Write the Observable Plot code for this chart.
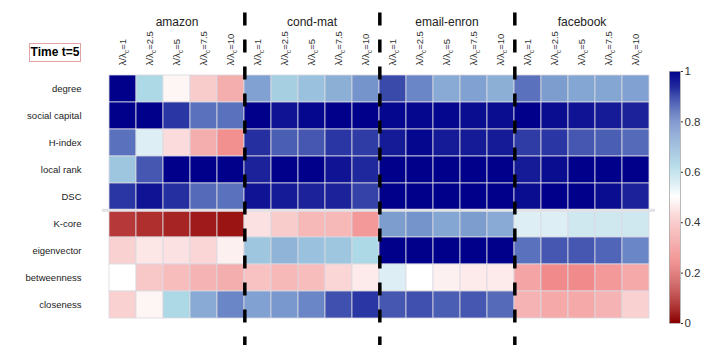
<!DOCTYPE html>
<html>
<head>
<meta charset="utf-8">
<script src="https://cdn.jsdelivr.net/npm/d3@7"></script>
<script src="https://cdn.jsdelivr.net/npm/@observablehq/plot@0.6"></script>
<style>
  html, body { margin: 0; padding: 0; background: white; }
  #wrap { position: relative; width: 714px; height: 361px; font-family: "Liberation Sans", Arial, sans-serif; }
  #wrap > div.abs { position: absolute; }
  #timebox { left: 29px; top: 43px; width: 50px; height: 17px; border: 1px solid #e3a3a3; font-weight: bold; font-size: 12px; line-height: 17px; text-align: center; color: #000; }
</style>
</head>
<body>
<div id="wrap"></div>
<script>
const rows = ["degree", "social capital", "H-index", "local rank", "DSC", "K-core", "eigenvector", "betweenness", "closeness"];
const datasets = ["amazon", "cond-mat", "email-enron", "facebook"];
const lambdas = ["1", "2.5", "5", "7.5", "10"];
const colorTicks = [0, 0.2, 0.4, 0.6, 0.8, 1];

// values per dataset: one row per measure, one column per λ/λc
const amazon = [
  [1.00, 0.62, 0.48, 0.40, 0.34],
  [1.00, 1.00, 0.92, 0.83, 0.83],
  [0.83, 0.55, 0.43, 0.34, 0.28],
  [0.66, 0.87, 1.00, 1.00, 1.00],
  [0.92, 0.97, 0.93, 0.84, 0.83],
  [0.11, 0.09, 0.07, 0.05, 0.04],
  [0.41, 0.45, 0.44, 0.42, 0.47],
  [0.50, 0.39, 0.37, 0.35, 0.34],
  [0.41, 0.48, 0.62, 0.72, 0.80]
];
const condMat = [
  [0.74, 0.64, 0.67, 0.71, 0.77],
  [1.00, 0.97, 0.99, 1.00, 1.00],
  [0.93, 0.86, 0.87, 0.92, 0.91],
  [0.95, 1.00, 1.00, 0.97, 0.94],
  [0.97, 0.96, 0.95, 0.95, 0.90],
  [0.44, 0.40, 0.36, 0.36, 0.30],
  [0.66, 0.70, 0.67, 0.66, 0.62],
  [0.38, 0.36, 0.37, 0.42, 0.46],
  [0.74, 0.76, 0.80, 0.88, 0.92]
];
const emailEnron = [
  [0.89, 0.80, 0.72, 0.74, 0.71],
  [0.99, 0.99, 0.99, 0.98, 0.98],
  [0.96, 0.99, 0.96, 0.96, 0.96],
  [1.00, 1.00, 1.00, 1.00, 1.00],
  [1.00, 1.00, 1.00, 1.00, 1.00],
  [0.75, 0.77, 0.73, 0.75, 0.72],
  [1.00, 1.00, 1.00, 1.00, 1.00],
  [0.55, 0.50, 0.47, 0.46, 0.46],
  [0.87, 0.88, 0.86, 0.87, 0.84]
];
const facebook = [
  [0.83, 0.75, 0.73, 0.73, 0.74],
  [1.00, 0.98, 0.97, 0.96, 0.95],
  [0.91, 0.92, 0.87, 0.86, 0.84],
  [0.96, 0.98, 1.00, 1.00, 1.00],
  [0.98, 1.00, 1.00, 0.98, 0.95],
  [0.55, 0.55, 0.57, 0.57, 0.57],
  [0.83, 0.87, 0.87, 0.85, 0.80],
  [0.32, 0.27, 0.27, 0.30, 0.33],
  [0.35, 0.33, 0.33, 0.35, 0.41]
];
const tables = [amazon, condMat, emailEnron, facebook];

const cols = datasets.flatMap(ds => lambdas.map(l => ds + "|" + l));
const data = [];
datasets.forEach((ds, di) => tables[di].forEach((r, ri) => r.forEach((v, li) => {
  data.push({col: ds + "|" + lambdas[li], row: rows[ri], value: v});
})));

const colorOpts = {
  type: "linear",
  domain: [0, 0.25, 0.5, 0.62, 0.8, 1],
  range: ["#8b0000", "#f08080", "#ffffff", "#add8e6", "#6a86c6", "#00008b"],
  interpolate: "rgb"
};

const W = 714, H = 361, mL = 102, mR = 59, mT = 72, mB = 40;
const bwX = (W - mL - mR) / cols.length;
const bwY = (H - mT - mB) / rows.length;

const main = Plot.plot({
  width: W, height: H,
  marginLeft: mL, marginRight: mR, marginTop: mT, marginBottom: mB,
  x: {domain: cols, padding: 0, axis: null, label: null},
  y: {domain: rows, padding: 0, axis: null, label: null},
  color: colorOpts,
  style: {fontFamily: "'Liberation Sans', Arial, sans-serif", background: "white", overflow: "visible"},
  marks: [
    Plot.cell(data, {x: "col", y: "row", fill: "value", stroke: "#d9d9e2", strokeWidth: 0.8}),
    Plot.ruleY(["K-core"], {dy: -bwY / 2, stroke: "#e2e2e6", strokeWidth: 3}),
    Plot.axisY({tickSize: 0, tickPadding: 21, fontSize: 9.5, color: "#222", label: null}),
    Plot.axisX({anchor: "top", tickRotate: -90, tickSize: 0, tickPadding: 7, fontSize: 9.5, color: "#333", label: null,
      tickFormat: d => "λ/λc=" + d.split("|")[1]}),
    Plot.text(datasets, {x: d => d + "|5", frameAnchor: "top", dy: -55, fontSize: 12, fill: "#222", text: d => d}),
    Plot.ruleX(["amazon|10", "cond-mat|10", "email-enron|10"], {dx: bwX / 2, insetTop: -59.5, insetBottom: -24,
      stroke: "black", strokeWidth: 3.5, strokeDasharray: "13,14"})
  ]
});

// subscript c in tick labels
main.querySelectorAll("text").forEach(t => {
  const s = t.textContent;
  if (s.startsWith("λ/λc=")) {
    const rest = s.slice(5);
    while (t.firstChild) t.removeChild(t.firstChild);
    const ns = "http://www.w3.org/2000/svg";
    const a = document.createElementNS(ns, "tspan"); a.textContent = "λ/λ";
    const b = document.createElementNS(ns, "tspan"); b.textContent = "c"; b.setAttribute("dy", "3"); b.setAttribute("font-size", "7");
    const c = document.createElementNS(ns, "tspan"); c.textContent = "=" + rest; c.setAttribute("dy", "-3");
    t.appendChild(a); t.appendChild(b); t.appendChild(c);
  }
});

const stops = d3.range(0, 1, 0.004);
const bar = Plot.plot({
  width: 74, height: H,
  marginLeft: 29, marginRight: 34, marginTop: 71, marginBottom: 38,
  x: {domain: [0, 1], axis: null},
  y: {domain: [0, 1], label: null},
  color: colorOpts,
  style: {fontFamily: "'Liberation Sans', Arial, sans-serif", background: "transparent", overflow: "visible"},
  marks: [
    Plot.rect(stops, {x1: 0, x2: 1, y1: d => d, y2: d => Math.min(1, d + 0.0045), fill: d => d}),
    Plot.frame({stroke: "#aaa", strokeWidth: 0.8}),
    Plot.axisY(colorTicks, {anchor: "right", tickSize: 2, tickPadding: 2, fontSize: 11.5, color: "#333", label: null,
      tickFormat: d => String(d)})
  ]
});

const wrap = document.getElementById("wrap");
wrap.appendChild(main);
const barDiv = document.createElement("div");
barDiv.className = "abs"; barDiv.style.left = "640px"; barDiv.style.top = "0px";
barDiv.appendChild(bar);
wrap.appendChild(barDiv);
const tb = document.createElement("div");
tb.className = "abs"; tb.id = "timebox"; tb.textContent = "Time t=5";
wrap.appendChild(tb);
</script>
</body>
</html>
